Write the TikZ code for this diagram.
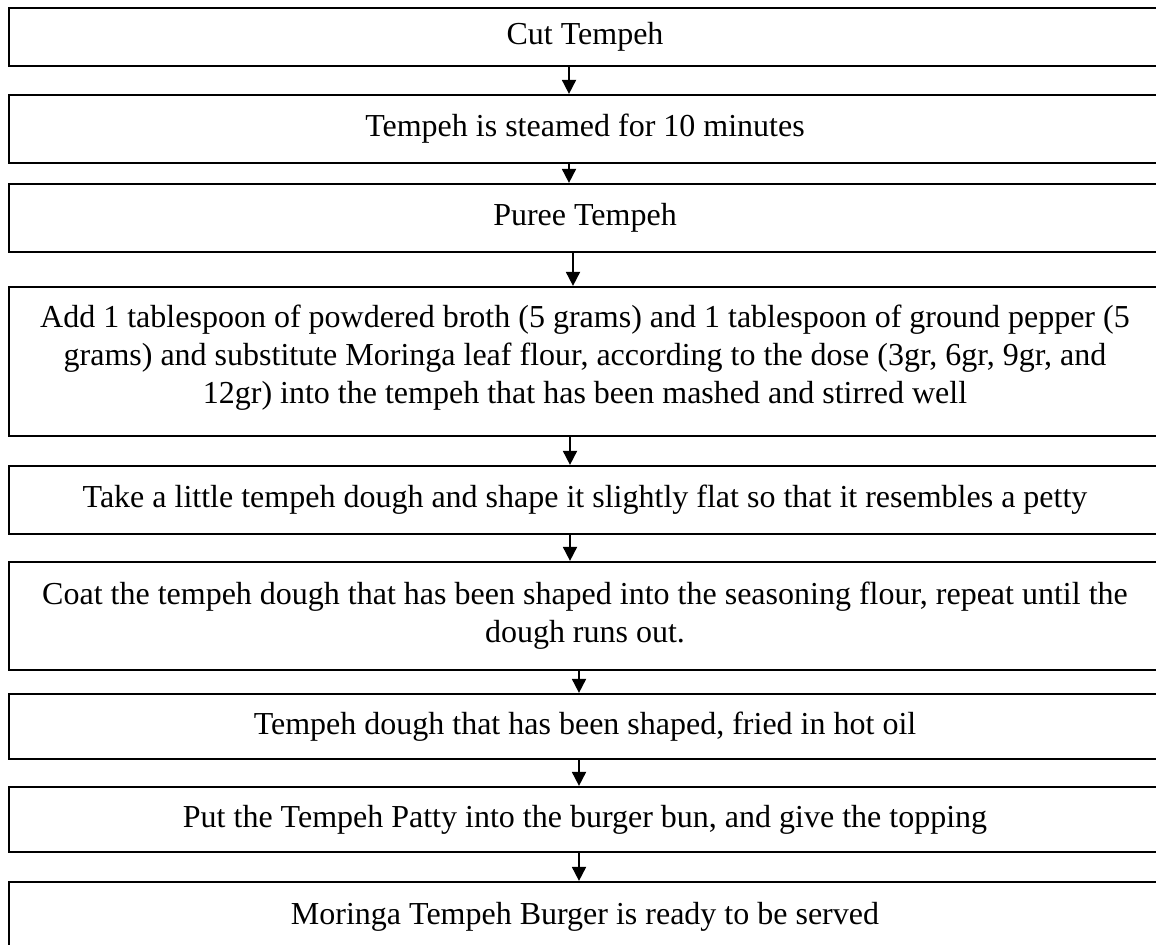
\documentclass[tikz,border=0pt]{standalone}
\usepackage{fontspec}
\setmainfont{Liberation Serif}
\usetikzlibrary{arrows.meta}

\begin{document}
\begin{tikzpicture}[
        x=0.5pt, y=-0.5pt,
        stepbox/.style = {
            draw, 
            line width=1.1pt,
            minimum width=576pt,
            inner sep=0pt,
            align=center,
            font=\fontsize{16pt}{19pt}\selectfont
        }, 
        flow/.style = {
            line width=0.9pt,
            -{Triangle[length=7pt, width=7pt]}
        }]
        \useasboundingbox (0,0) rectangle (1156,945);
        \node[stepbox, minimum height=29pt] (cut) at (585,37) {Cut Tempeh};
        \node[stepbox, minimum height=34pt] (steam) at (585,129) {Tempeh is steamed for 10 minutes};
        \node[stepbox, minimum height=34pt] (puree) at (585,218) {Puree Tempeh};
        \node[stepbox, minimum height=74.5pt] (mix) at (585,361.5) {Add 1 tablespoon of powdered broth (5 grams) and 1 tablespoon of ground pepper (5\\ grams) and substitute Moringa leaf flour, according to the dose (3gr, 6gr, 9gr, and\\ 12gr) into the tempeh that has been mashed and stirred well\\[-11.5pt]};
        \node[stepbox, minimum height=34pt] (shape) at (585,500) {Take a little tempeh dough and shape it slightly flat so that it resembles a petty};
        \node[stepbox, minimum height=54pt] (coat) at (585,616) {Coat the tempeh dough that has been shaped into the seasoning flour, repeat until the\\ dough runs out.\\[-15pt]};
        \node[stepbox, minimum height=32.5pt] (fry) at (585,726.5) {Tempeh dough that has been shaped, fried in hot oil};
        \node[stepbox, minimum height=32.5pt] (bun) at (585,819.5) {Put the Tempeh Patty into the burger bun, and give the topping};
        \node[stepbox, minimum height=35pt] (serve) at (585,917) {Moringa Tempeh Burger is ready to be served};
        % arrows between the steps
        \draw[flow] ([xshift=-8pt]cut.south) -- ([xshift=-8pt]steam.north);
        \draw[flow] ([xshift=-8pt]steam.south) -- ([xshift=-8pt]puree.north);
        \draw[flow] ([xshift=-6pt]puree.south) -- ([xshift=-6pt]mix.north);
        \draw[flow] ([xshift=-7.5pt]mix.south) -- ([xshift=-7.5pt]shape.north);
        \draw[flow] ([xshift=-7.5pt]shape.south) -- ([xshift=-7.5pt]coat.north);
        \draw[flow] ([xshift=-3pt]coat.south) -- ([xshift=-3pt]fry.north);
        \draw[flow] ([xshift=-3pt]fry.south) -- ([xshift=-3pt]bun.north);
        \draw[flow] ([xshift=-3pt]bun.south) -- ([xshift=-3pt]serve.north);
    \end{tikzpicture}
\end{document}
